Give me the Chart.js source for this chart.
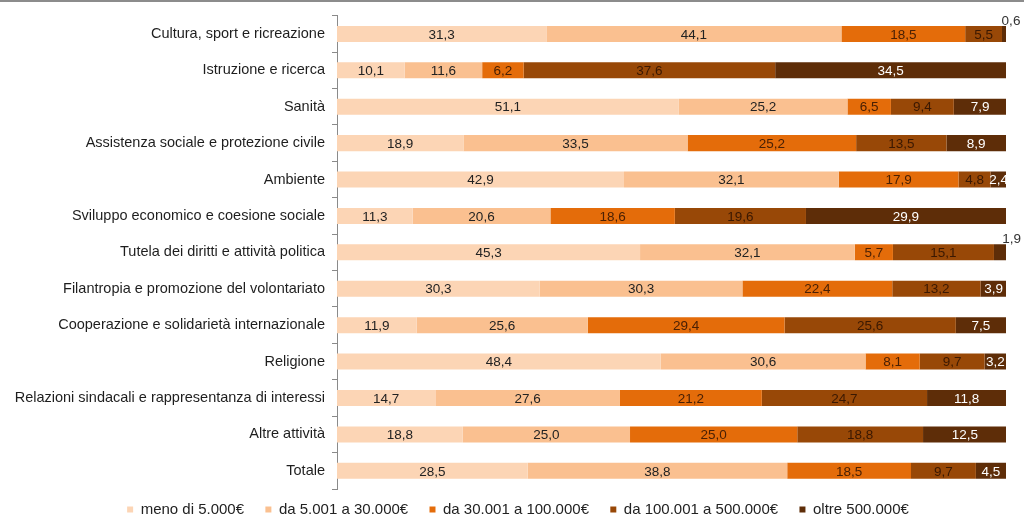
<!DOCTYPE html>
<html>
<head>
<meta charset="utf-8">
<script src="https://cdn.jsdelivr.net/npm/chart.js@4.4.1/dist/chart.umd.min.js"></script>
<style>
    html, body { margin: 0; padding: 0; background: #ffffff; }
    #wrap { width: 1024px; height: 529px; }
</style>
</head>
<body>
<div id="wrap"><canvas id="chart" width="1024" height="529"></canvas></div>
<script>
// ===== DATA =====
const categories = [
    "Cultura, sport e ricreazione",
    "Istruzione e ricerca",
    "Sanità",
    "Assistenza sociale e protezione civile",
    "Ambiente",
    "Sviluppo economico e coesione sociale",
    "Tutela dei diritti e attività politica",
    "Filantropia e promozione del volontariato",
    "Cooperazione e solidarietà internazionale",
    "Religione",
    "Relazioni sindacali e rappresentanza di interessi",
    "Altre attività",
    "Totale"
];

const seriesNames = [
    "meno di 5.000€",
    "da 5.001 a 30.000€",
    "da 30.001 a 100.000€",
    "da 100.001 a 500.000€",
    "oltre 500.000€"
];

const meno5000      = [31.3, 10.1, 51.1, 18.9, 42.9, 11.3, 45.3, 30.3, 11.9, 48.4, 14.7, 18.8, 28.5];
const da5a30        = [44.1, 11.6, 25.2, 33.5, 32.1, 20.6, 32.1, 30.3, 25.6, 30.6, 27.6, 25.0, 38.8];
const da30a100      = [18.5,  6.2,  6.5, 25.2, 17.9, 18.6,  5.7, 22.4, 29.4,  8.1, 21.2, 25.0, 18.5];
const da100a500     = [ 5.5, 37.6,  9.4, 13.5,  4.8, 19.6, 15.1, 13.2, 25.6,  9.7, 24.7, 18.8,  9.7];
const oltre500      = [ 0.6, 34.5,  7.9,  8.9,  2.4, 29.9,  1.9,  3.9,  7.5,  3.2, 11.8, 12.5,  4.5];

const allSeries = [meno5000, da5a30, da30a100, da100a500, oltre500];

const colors = ["#FCD5B5", "#FAC090", "#E46C0A", "#984807", "#5E2D08"];
const labelColors = ["#222222", "#222222", "#4a2004", "#3a1802", "#ffffff"];

const FONT = "'Liberation Sans', Arial, sans-serif";

// ===== PLUGINS =====
// value labels inside each segment (small ones above the bar end)
const valueLabels = {
    id: "valueLabels",
    afterDatasetsDraw(chart) {
        const ctx = chart.ctx;
        ctx.save();
        ctx.font = "13.5px " + FONT;
        chart.data.datasets.forEach((ds, di) => {
            const meta = chart.getDatasetMeta(di);
            meta.data.forEach((bar, i) => {
                const v = ds.data[i];
                const txt = v.toFixed(1).replace(".", ",");
                const left = Math.min(bar.x, bar.base);
                const right = Math.max(bar.x, bar.base);
                if (v < 2) {
                    ctx.fillStyle = "#333333";
                    ctx.textAlign = "center";
                    ctx.textBaseline = "alphabetic";
                    ctx.fillText(txt, right + 5, bar.y - bar.height / 2 - 1);
                } else {
                    ctx.fillStyle = labelColors[di];
                    ctx.textAlign = "center";
                    ctx.textBaseline = "middle";
                    ctx.fillText(txt, (left + right) / 2, bar.y + 1);
                }
            });
        });
        ctx.restore();
    }
};

// gray rule across the very top
const topRule = {
    id: "topRule",
    beforeDraw(chart) {
        const ctx = chart.ctx;
        ctx.save();
        ctx.fillStyle = "#ffffff";
        ctx.fillRect(0, 0, chart.width, chart.height);
        ctx.strokeStyle = "#8c8c8c";
        ctx.lineWidth = 2;
        ctx.beginPath();
        ctx.moveTo(0, 1);
        ctx.lineTo(chart.width, 1);
        ctx.stroke();
        ctx.restore();
    }
};

// legend sits a bit right of centre in the original
const legendShift = {
    id: "legendShift",
    afterLayout(chart) {
        if (chart.legend) {
            chart.legend.left += 15;
            chart.legend.right += 15;
        }
    }
};

// ===== CHART =====
const ctx = document.getElementById("chart").getContext("2d");

new Chart(ctx, {
    type: "bar",
    data: {
        labels: categories,
        datasets: allSeries.map((vals, i) => ({
            label: seriesNames[i],
            data: vals,
            backgroundColor: colors[i],
            borderWidth: 0,
            categoryPercentage: 1,
            barPercentage: 0.44
        }))
    },
    options: {
        indexAxis: "y",
        responsive: false,
        animation: false,
        layout: { padding: { top: 11, right: 18, left: 0, bottom: 2 } },
        plugins: {
            legend: {
                position: "bottom",
                labels: {
                    boxWidth: 6,
                    boxHeight: 6,
                    padding: 13,
                    color: "#222222",
                    font: { family: FONT, size: 15 },
                    generateLabels(chart) {
                        const items = Chart.defaults.plugins.legend.labels.generateLabels(chart);
                        // a little extra room between entries
                        items.forEach((it, i) => {
                            if (i < items.length - 1) it.text = it.text + "\u00a0\u00a0";
                        });
                        return items;
                    }
                }
            },
            tooltip: { enabled: false }
        },
        scales: {
            x: {
                stacked: true,
                min: 0,
                max: 100,
                display: false
            },
            y: {
                stacked: true,
                afterFit(scale) { scale.width = 337; },
                grid: {
                    drawOnChartArea: false,
                    offset: true,
                    tickLength: 5,
                    color: "#8a8a8a"
                },
                border: { color: "#8a8a8a", width: 1 },
                ticks: {
                    color: "#1e1e1e",
                    padding: 7,
                    font: { family: FONT, size: 14.5 }
                }
            }
        }
    },
    plugins: [topRule, valueLabels, legendShift]
});
</script>
</body>
</html>
